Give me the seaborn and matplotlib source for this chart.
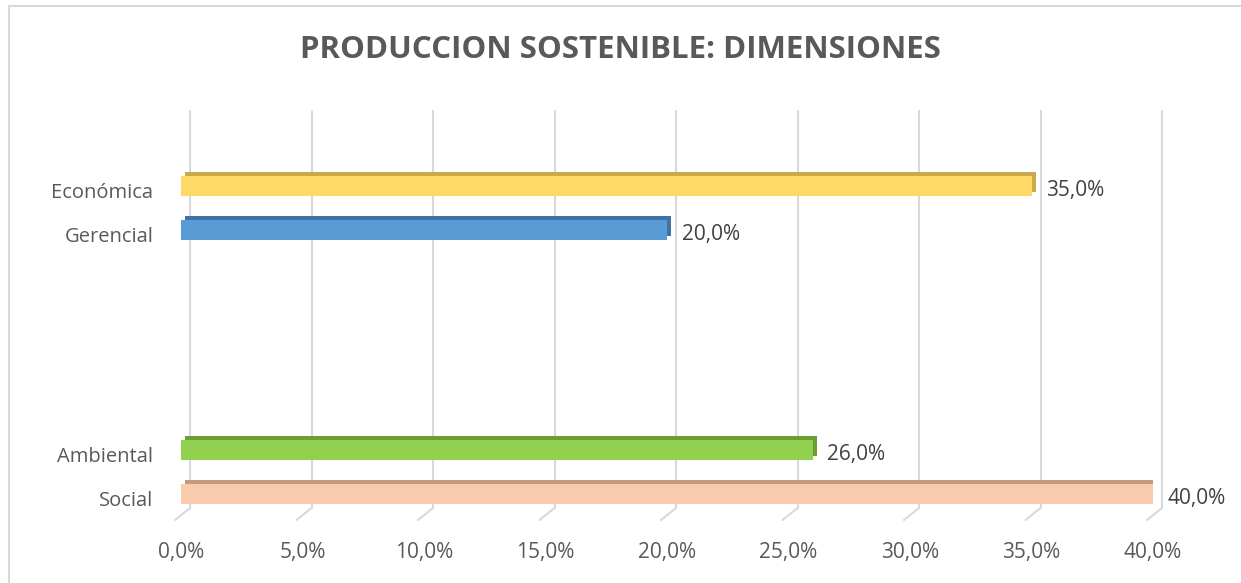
import matplotlib
matplotlib.use('Agg')
import matplotlib.pyplot as plt
import matplotlib.patheffects as pe
from matplotlib.transforms import ScaledTranslation
from matplotlib.ticker import FuncFormatter
import seaborn as sns
import pandas as pd

# data
dimensions = ["Económica", "Gerencial", "Ambiental", "Social"]
values = [0.35, 0.20, 0.26, 0.40]
colors = ["#FFD966", "#5B9BD5", "#92D050", "#F8CBAD"]
side_colors = ["#C9A948", "#3F73A3", "#6B9E35", "#C39A80"]
# empty slots between the two pairs of bars
spacers = [" ", "  ", "   ", "    "]
order = dimensions[:2] + spacers + dimensions[2:]
x_ticks = [0.0, 0.05, 0.10, 0.15, 0.20, 0.25, 0.30, 0.35, 0.40]

df = pd.DataFrame({"dim": dimensions, "val": values})

sns.set_theme(style="white")
plt.rcParams['font.family'] = ['Open Sans', 'DejaVu Sans']

W, H = 1241, 583
fig = plt.figure(figsize=(W / 100, H / 100), dpi=100)
ax = fig.add_axes([181 / W, 1 - 516 / H, (1153 - 181) / W, (516 - 111) / H])

sns.barplot(data=df, x="val", y="dim", hue="dim", order=order, hue_order=dimensions,
            palette=colors, width=0.45, legend=False, ax=ax, saturation=1, linewidth=0)


def px(dx, dy):
    return ScaledTranslation(dx / 100, dy / 100, fig.dpi_scale_trans)


# fake 3D: darker top/side face via a shifted shadow
for bar, side in zip(ax.patches, side_colors):
    bar.set_edgecolor("none")
    bar.set_path_effects([pe.withSimplePatchShadow(offset=(3.2, 3.0), shadow_rgbFace=side, alpha=1.0),
                          pe.Normal()])
    ax.text(bar.get_width() + 0.006, bar.get_y() + bar.get_height() / 2 + 0.1,
            f"{bar.get_width() * 100:.1f}%".replace(".", ","),
            va="center", ha="left", fontsize=15, color="#404040")

ax.set_xlim(0, 0.40)
ax.set_ylim(len(order) - 0.5, -1.7)

# gridlines on the back wall, with the diagonal floor ticks
xt = ax.get_xaxis_transform()
floor = 8 / (516 - 111)
for t in x_ticks:
    ax.plot([t, t], [floor, 1], transform=xt + px(9, 0), color="#D9D9D9", lw=1.5,
            zorder=0, clip_on=False)
    ax.annotate("", xy=(t, floor), xycoords=xt + px(9, 0), xytext=(-15, -12),
                textcoords="offset pixels",
                arrowprops=dict(arrowstyle="-", color="#D9D9D9", lw=1.5, shrinkA=0, shrinkB=0))

ax.set_xticks(x_ticks)
ax.xaxis.set_major_formatter(FuncFormatter(lambda v, p: f"{v * 100:.1f}%".replace(".", ",")))
ax.tick_params(axis="x", labelsize=15, labelcolor="#595959", length=0, pad=19)
ax.tick_params(axis="y", labelsize=14.5, labelcolor="#595959", length=0, pad=20)
ax.set_yticks(range(len(order)))
ax.set_yticklabels([d if d.strip() else "" for d in order])
for lbl in ax.get_yticklabels():
    lbl.set_transform(lbl.get_transform() + px(0, -5))
ax.set_xlabel("")
ax.set_ylabel("")
for s in ax.spines.values():
    s.set_visible(False)

fig.text(0.5, 1 - 50 / H, "PRODUCCION SOSTENIBLE: DIMENSIONES", ha="center", va="center",
         fontsize=22.5, fontweight="bold", color="#595959")

# chart border
fig.add_artist(plt.Rectangle((9 / W, -0.01), 1.02, 1 - 6 / H + 0.01, transform=fig.transFigure,
                             fill=False, edgecolor="#D9D9D9", lw=1.5))

fig.savefig("out.png", dpi=100)
